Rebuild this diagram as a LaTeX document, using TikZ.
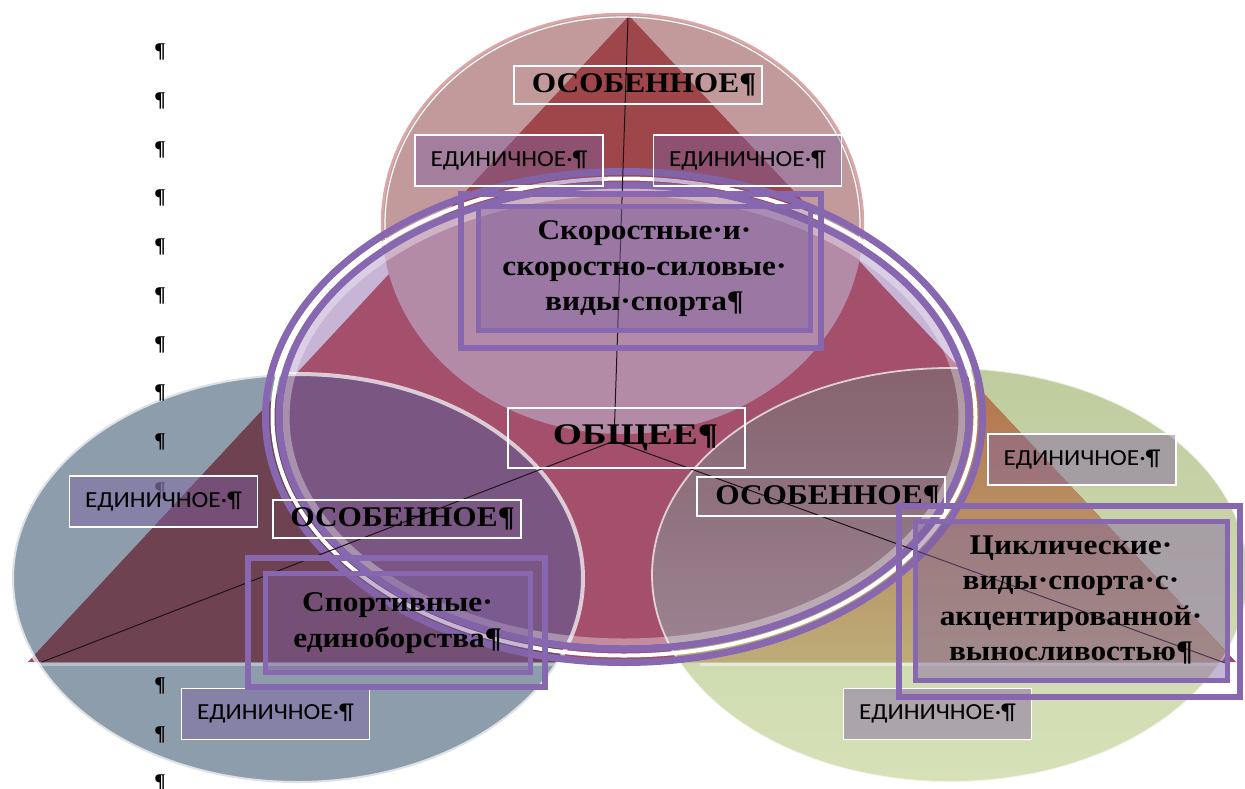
\documentclass[tikz,border=0pt]{standalone}
\usepackage{fontspec}
\usepackage{graphicx}
\setmainfont{Liberation Serif}
\newfontfamily\calfont{Carlito}
\definecolor{Lblue}{HTML}{8E9DAC}
\definecolor{RgreenA}{HTML}{BFCC9E}
\definecolor{RgreenB}{HTML}{D6E1B8}
\definecolor{Tpink}{HTML}{C29A9C}
\definecolor{Tedge}{HTML}{DDA6A8}
\definecolor{TriBase}{HTML}{A24A5E}
\definecolor{TriT}{HTML}{9E4649}
\definecolor{TriL}{HTML}{6F4252}
\definecolor{TriRA}{HTML}{B5744E}
\definecolor{TriRB}{HTML}{BDAC78}
\definecolor{Plav}{HTML}{C7B5D6}
\definecolor{PTri}{HTML}{A4506C}
\definecolor{PT}{HTML}{B48BA7}
\definecolor{PL}{HTML}{7A5782}
\definecolor{PRA}{HTML}{86636F}
\definecolor{PRB}{HTML}{9D8593}
\definecolor{ringc}{HTML}{8768B0}
\definecolor{boxpurple}{HTML}{7E5FA0}
\definecolor{connc}{HTML}{1E1418}
\newcommand\sx[1]{\scalebox{1.1}[1]{#1}}
\begin{document}
\begin{tikzpicture}[x=1pt,y=-1pt,
  shapeT/.style={insert path={(622.5,224) ellipse [x radius=240.5, y radius=210]}},
  shapeL/.style={insert path={(297.5,578.5) ellipse [x radius=285.5, y radius=204.5]}},
  shapeR/.style={insert path={(950,575) ellipse [x radius=298, y radius=207]}},
  shapeP/.style={insert path={(624,417) ellipse [x radius=347, y radius=234]}},
  shapeTri/.style={insert path={(629,16) -- (28,662) -- (1236,662) -- cycle}},
  ebox/.style={draw=white, line width=1.2pt, fill=boxpurple, fill opacity=0.45, text opacity=1,
    minimum width=188pt, minimum height=51pt, inner sep=0pt,
    font=\calfont\fontsize{23}{27}\selectfont},
  obox/.style={draw=white, line width=1.2pt, minimum width=248pt, minimum height=38pt, inner sep=0pt,
    font=\bfseries\fontsize{28.5}{34}\selectfont},
  bigbox/.style={draw=ringc, line width=5pt, fill=boxpurple, fill opacity=0.45, text opacity=1, inner sep=0pt,
    font=\bfseries\fontsize{28.5}{35.5}\selectfont},
  frame/.style={draw=ringc, line width=6pt},
  conn/.style={draw=connc, line width=1pt},
  pil/.style={font=\bfseries\fontsize{21}{24}\selectfont, inner sep=0pt}
]
\useasboundingbox (0,0) rectangle (1245,788);
% ---- base ellipses
\fill[Lblue, shapeL];
\shade[top color=RgreenA, bottom color=RgreenB, shapeR];
\fill[Tpink, shapeT];
% ---- triangle and its overlaps
\fill[TriBase, shapeTri];
\begin{scope}\path[clip, shapeT]; \fill[TriT, shapeTri]; \end{scope}
\begin{scope}\path[clip, shapeL]; \fill[TriL, shapeTri]; \end{scope}
\begin{scope}\path[clip, shapeR]; \path[clip, shapeTri];
  \shade[top color=TriRA, bottom color=TriRB] (640,380) rectangle (1250,662); \end{scope}
% ---- outline of the top circle
\draw[Tedge, line width=2.5pt, shapeT];
\draw[white, line width=1.2pt] (622.5,224) ellipse [x radius=237.5, y radius=207];
% ---- central ellipse region
\begin{scope}\path[clip, shapeP];
  \fill[Plav, shapeP];
  \fill[PTri, shapeTri];
  \fill[PT, shapeT];
  \fill[PL, shapeL];
  \begin{scope}\path[clip, shapeR];
    \shade[top color=PRA, bottom color=PRB] (640,368) rectangle (1000,670); \end{scope}
\end{scope}
% ---- light strip under the triangle base
\begin{scope}\path[clip, shapeL]; \draw[white, opacity=0.35, line width=3pt] (28,664.5) -- (600,664.5); \end{scope}
\begin{scope}\path[clip, shapeR]; \draw[white, opacity=0.45, line width=3pt] (700,664.5) -- (1240,664.5); \end{scope}
% ---- outlines of lower ellipses
\draw[white, opacity=0.7, line width=4pt, shapeL];
\draw[white, opacity=0.7, line width=1.8pt, shapeR];
% ---- pilcrow column
\foreach \k in {0,...,8,13,14,15}{
  \node[pil] (pm\k) at (160,{52+48.75*\k}) {¶};
}
\node[pil, opacity=0.55] (pm9) at (160,{52+48.75*9}) {¶};
% ---- central double ring
\draw[white, opacity=0.35, line width=7pt] (624,417) ellipse [x radius=338, y radius=225];
\draw[ringc, line width=7pt] (624,417) ellipse [x radius=358.5, y radius=245.5];
\draw[white, line width=4pt] (624,417) ellipse [x radius=351.5, y radius=238.5];
\draw[ringc, line width=7pt] (624,417) ellipse [x radius=345, y radius=232];
% ---- connectors
\coordinate (apex) at (628,18);
\coordinate (hub) at (614,441);
\coordinate (lbase) at (42,662);
\coordinate (rbase) at (1228,664);
\draw[conn] (hub) -- (apex);
\draw[conn] (hub) -- (lbase);
\draw[conn] (hub) -- (rbase);
% ---- label boxes
\node[obox] (osTop) at (638,85) {\hspace*{12pt}\sx{ОСОБЕННОЕ¶}};
\node[obox, minimum width=237pt, minimum height=60pt, font=\bfseries\fontsize{30}{36}\selectfont] (common) at (626.5,438) {\hspace*{18pt}\scalebox{1.25}[1]{ОБЩЕЕ¶}};
\node[obox] (osLeft) at (397,519) {\hspace*{11pt}\sx{ОСОБЕННОЕ¶}};
\node[obox, minimum height=39pt] (osRight) at (821,496.5) {\hspace*{13pt}\sx{ОСОБЕННОЕ¶}};
\node[ebox] (e1) at (509,160.5) {\sx{ЕДИНИЧНОЕ·¶}};
\node[ebox] (e2) at (747.5,160.5) {\sx{ЕДИНИЧНОЕ·¶}};
\node[ebox] (e3) at (163.5,501.5) {\sx{ЕДИНИЧНОЕ·¶}};
\node[ebox] (e4) at (1082,459.5) {\sx{ЕДИНИЧНОЕ·¶}};
\node[ebox] (e5) at (275.5,714) {\sx{ЕДИНИЧНОЕ·¶}};
\node[ebox] (e6) at (937.5,714) {\sx{ЕДИНИЧНОЕ·¶}};
% ---- framed boxes
\node[bigbox, minimum width=332pt, minimum height=123.5pt] (speed) at (644.5,268.25)
  {\sx{\begin{tabular}{@{}c@{}}Скоростные·и·\\скоростно-силовые·\\виды·спорта¶\end{tabular}}};
\draw[frame] ([shift={(-15,-10)}]speed.north west) rectangle ([shift={(7.5,15.5)}]speed.south east);
\node[bigbox, minimum width=265pt, minimum height=99pt] (combat) at (397.5,622.5)
  {\sx{\begin{tabular}{@{}c@{}}Спортивные·\\единоборства¶\end{tabular}}};
\draw[frame] ([shift={(-15,-13)}]combat.north west) rectangle ([shift={(12,12)}]combat.south east);
\node[bigbox, minimum width=312pt, minimum height=159pt] (cyclic) at (1071,600.5)
  {\sx{\begin{tabular}{@{}c@{}}Циклические·\\виды·спорта·с·\\акцентированной·\\выносливостью¶\end{tabular}}};
\draw[frame] ([shift={(-14,-13)}]cyclic.north west) rectangle ([shift={(10,14)}]cyclic.south east);
\end{tikzpicture}
\end{document}
